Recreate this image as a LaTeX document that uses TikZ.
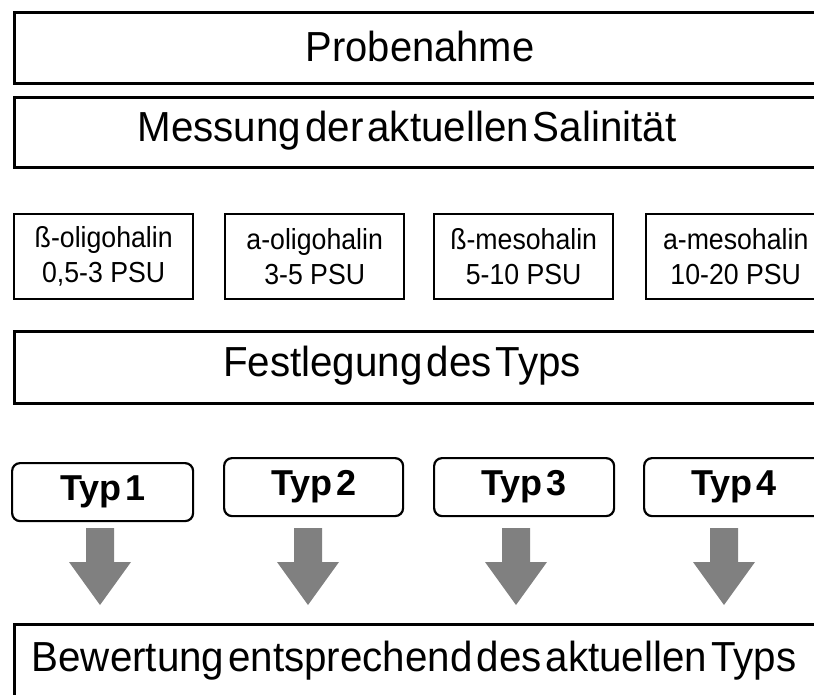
\documentclass[tikz,border=0pt]{standalone}
\usepackage{fontspec}
\usepackage{graphicx}
\setmainfont{Liberation Sans}
\definecolor{arrowgray}{RGB}{128,128,128}
\newcommand\hsq[1]{\scalebox{0.92}[1]{#1}}
\newcommand\tsq[2]{\scalebox{#1}[1]{\spaceskip=0.1em\relax #2}}
\begin{document}
\begin{tikzpicture}[x=1bp,y=-1bp,
  bigbox/.style={draw,line width=2.6bp,anchor=north west,minimum width=840bp,inner sep=0pt},
  bigtext/.style={font=\fontsize{42bp}{50bp}\selectfont,inner sep=0pt},
  smallbox/.style={draw,line width=2.4bp,anchor=north west,minimum width=179bp,minimum height=85bp,inner sep=0pt,
    align=center,font=\fontsize{29bp}{35bp}\selectfont},
  typbox/.style={draw,line width=2.2bp,rounded corners=8bp,anchor=north west,minimum width=180bp,minimum height=58bp,
    inner sep=0pt,font=\fontsize{36bp}{40bp}\selectfont\bfseries},
  blockarrow/.style={fill=arrowgray}
]
\useasboundingbox (0,0) rectangle (814,695);
\clip (0,0) rectangle (814,695);

% big boxes
\node[bigbox,minimum height=71bp] (probe) at (13,11) {};
\node[bigtext] (probetxt) at (420,46.5) {\tsq{0.95}{Probenahme}};
\node[bigbox,minimum height=70bp] (mess) at (13,96) {};
\node[bigtext] (messtxt) at (407,131) {\tsq{0.96}{Messung der aktuellen Salinität}};

% salinity classes
\node[smallbox] (s1) at (13,213) {\hsq{ß-oligohalin}\\\hsq{0,5-3 PSU}};
\node[smallbox] (s2) at (224,213) {\hsq{a-oligohalin}\\\hsq{3-5 PSU}};
\node[smallbox] (s3) at (433,213) {\hsq{ß-mesohalin}\\\hsq{5-10 PSU}};
\node[smallbox] (s4) at (645,213) {\hsq{a-mesohalin}\\\hsq{10-20 PSU}};

\node[bigbox,minimum height=72bp] (fest) at (13,330) {};
\node[bigtext] (festtxt) at (402,366) {\tsq{0.96}{Festlegung des Typs}};

% types
\node[typbox,minimum width=181bp] (t1) at (11,462) {\tsq{1}{Typ 1}};
\node[typbox,minimum width=179bp] (t2) at (223,457) {\tsq{1}{Typ 2}};
\node[typbox] (t3) at (433,457) {\tsq{1}{Typ 3}};
\node[typbox] (t4) at (643,457) {\tsq{1}{Typ 4}};

% block arrows
\foreach \n/\cx in {1/100,2/308,3/516,4/724}{
  \coordinate (a\n) at (\cx,528);
  \fill[blockarrow] (a\n) ++(-14,0) -- ++(28,0) -- ++(0,34) -- ++(17,0) -- ++(-31,43) -- ++(-31,-43) -- ++(17,0) -- cycle;
}

\node[bigbox,minimum height=80bp] (bew) at (13,623) {};
\node[bigtext] (bewtxt) at (414,661) {\tsq{0.96}{Bewertung entsprechend des aktuellen Typs}};
\end{tikzpicture}
\end{document}
